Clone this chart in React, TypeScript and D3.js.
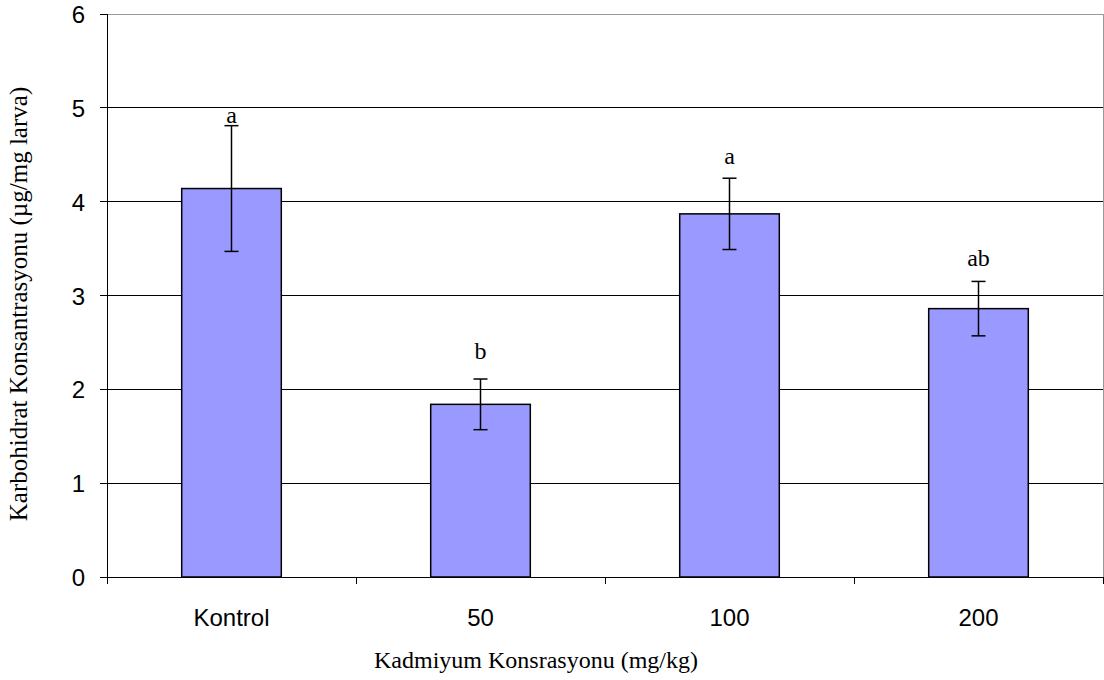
import React from "react";
import * as d3 from "d3";

const categories = ["Kontrol", "50", "100", "200"];
const means = [4.14, 1.84, 3.87, 2.86];
const errors = [0.67, 0.27, 0.38, 0.29];
const letters = ["a", "b", "a", "ab"];
const letterY = [4.84, 2.32, 4.4, 3.31];
const yTicks = [0, 1, 2, 3, 4, 5, 6];

const W = 1104;
const H = 680;
const M = { left: 107, right: 1, top: 14, bottom: 103 };
const SERIF = "'Liberation Serif', 'Times New Roman', serif";
const SANS = "'Liberation Sans', Arial, sans-serif";

const App = () => {
  const innerW = W - M.left - M.right;
  const innerH = H - M.top - M.bottom;

  const x = d3.scaleBand<string>().domain(categories).range([0, innerW]).paddingInner(0).paddingOuter(0);
  const y = d3.scaleLinear().domain([0, 6]).range([innerH, 0]);
  const barW = x.bandwidth() * 0.4;
  const capW = 14;

  const boundaries = d3.range(categories.length + 1).map((i) => i * x.step());

  return (
    <svg width={W} height={H} style={{ display: "block", position: "absolute", left: 0, top: 0, background: "#fff" }}>
      <g transform={`translate(${M.left},${M.top})`}>
        {/* gridlines */}
        {yTicks.filter((t) => t > 0).map((t) => (
          <line key={t} x1={0} x2={innerW} y1={y(t)} y2={y(t)} stroke={t === 6 ? "#999" : "#000"} strokeWidth={1} shapeRendering="crispEdges" />
        ))}
        {/* right border */}
        <line x1={innerW} x2={innerW} y1={0} y2={innerH} stroke="#999" shapeRendering="crispEdges" />

        {/* bars */}
        {categories.map((c, i) => {
          const cx = (x(c) ?? 0) + x.bandwidth() / 2;
          return (
            <g key={c}>
              <rect x={cx - barW / 2} y={y(means[i])} width={barW} height={innerH - y(means[i])} fill="#9999ff" stroke="#000" strokeWidth={1.5} />
              <line x1={cx} x2={cx} y1={y(means[i] + errors[i])} y2={y(means[i] - errors[i])} stroke="#000" strokeWidth={1.5} />
              <line x1={cx - capW / 2} x2={cx + capW / 2} y1={y(means[i] + errors[i])} y2={y(means[i] + errors[i])} stroke="#000" strokeWidth={1.5} />
              <line x1={cx - capW / 2} x2={cx + capW / 2} y1={y(means[i] - errors[i])} y2={y(means[i] - errors[i])} stroke="#000" strokeWidth={1.5} />
              <text x={cx} y={y(letterY[i])} textAnchor="middle" fontFamily={SERIF} fontSize={24} fill="#000">
                {letters[i]}
              </text>
            </g>
          );
        })}

        {/* y axis */}
        <line x1={0} x2={0} y1={0} y2={innerH} stroke="#000" shapeRendering="crispEdges" />
        {yTicks.map((t) => (
          <g key={t}>
            <line x1={-7} x2={0} y1={y(t)} y2={y(t)} stroke="#000" shapeRendering="crispEdges" />
            <text x={-22} y={y(t) + 9} textAnchor="end" fontFamily={SANS} fontSize={24} fill="#000">
              {t}
            </text>
          </g>
        ))}

        {/* x axis */}
        <line x1={0} x2={innerW} y1={innerH} y2={innerH} stroke="#000" shapeRendering="crispEdges" />
        {boundaries.map((b, i) => (
          <line key={i} x1={b} x2={b} y1={innerH} y2={innerH + 7} stroke="#000" shapeRendering="crispEdges" />
        ))}
        {categories.map((c) => (
          <text key={c} x={(x(c) ?? 0) + x.bandwidth() / 2} y={innerH + 49} textAnchor="middle" fontFamily={SANS} fontSize={24} fill="#000">
            {c}
          </text>
        ))}
      </g>

      <text x={536} y={668} textAnchor="middle" fontFamily={SERIF} fontSize={24} fill="#000">
        Kadmiyum Konsrasyonu (mg/kg)
      </text>
      <text transform={`translate(27,${304}) rotate(-90)`} textAnchor="middle" fontFamily={SERIF} fontSize={25} fill="#000">
        Karbohidrat Konsantrasyonu (µg/mg larva)
      </text>
    </svg>
  );
};

export default App;
